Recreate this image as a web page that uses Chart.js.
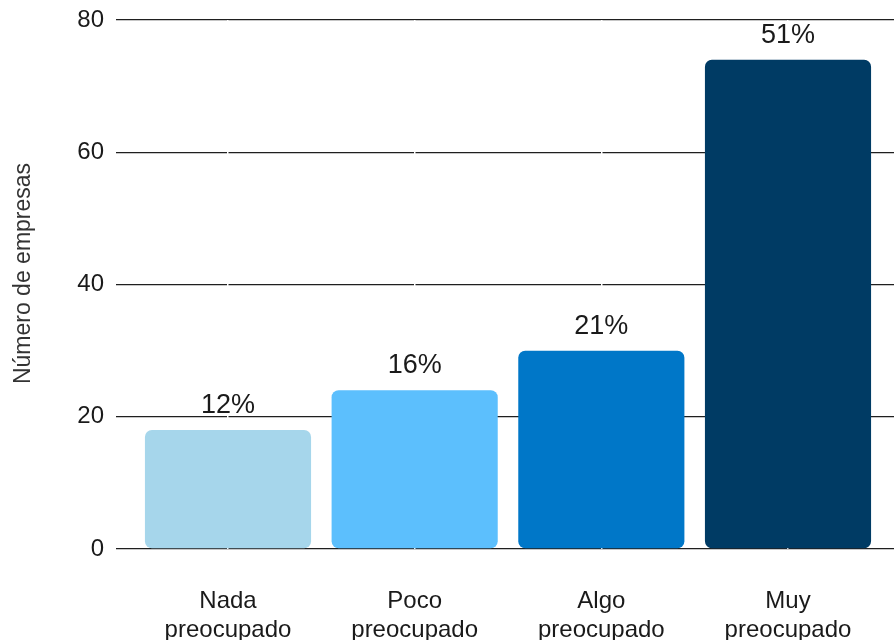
<!DOCTYPE html>
<html>
<head>
<meta charset="utf-8">
<script src="https://cdn.jsdelivr.net/npm/chart.js@4.4.1/dist/chart.umd.min.js"></script>
<style>
  html, body { margin: 0; padding: 0; background: #fff; overflow: hidden; }
  #wrap { width: 900px; height: 640px; }
</style>
</head>
<body>
<div id="wrap"><canvas id="preocupacionChart"></canvas></div>
<script>
const categories = ['Nada preocupado', 'Poco preocupado', 'Algo preocupado', 'Muy preocupado'];
const empresas = [18, 24, 30, 74];
const porcentajes = ['12%', '16%', '21%', '51%'];
const barColors = ['#a6d6eb', '#5cbffd', '#0077c8', '#003b64'];
const yTicks = [0, 20, 40, 60, 80];
const yTitle = 'Número de empresas';

Chart.defaults.font.family = "'Liberation Sans', Arial, sans-serif";
Chart.defaults.color = '#1a1a1a';

// draws the % label above every bar, and the y axis title
const pctLabels = {
    id: 'pctLabels',
    afterDatasetsDraw(chart) {
        const ctx = chart.ctx;
        const meta = chart.getDatasetMeta(0);
        ctx.save();
        ctx.font = "27px 'Liberation Sans', Arial, sans-serif";
        ctx.fillStyle = '#1a1a1a';
        ctx.textAlign = 'center';
        ctx.textBaseline = 'alphabetic';
        meta.data.forEach(function(bar, i) {
            ctx.fillText(porcentajes[i], bar.x, bar.y - 17);
        });
        ctx.restore();

        const area = chart.chartArea;
        ctx.save();
        ctx.translate(24, (area.top + area.bottom) / 2 - 11);
        ctx.rotate(-Math.PI / 2);
        ctx.font = "23px 'Liberation Sans', Arial, sans-serif";
        ctx.fillStyle = '#333333';
        ctx.textAlign = 'center';
        ctx.textBaseline = 'middle';
        ctx.fillText(yTitle, 0, 0);
        ctx.restore();
    }
};

const ctx = document.getElementById('preocupacionChart').getContext('2d');
new Chart(ctx, {
    type: 'bar',
    data: {
        datasets: [{
            data: empresas.map(function(v, i) { return { x: i + 1, y: v }; }),
            backgroundColor: barColors,
            borderRadius: 7,
            borderSkipped: false,
            barPercentage: 0.89,
            categoryPercentage: 1
        }]
    },
    options: {
        responsive: true,
        maintainAspectRatio: false,
        animation: false,
        layout: { padding: { top: 20, right: 0, left: 0, bottom: 0 } },
        plugins: {
            legend: { display: false },
            tooltip: { enabled: false }
        },
        scales: {
            x: {
                type: 'linear',
                offset: false,
                min: 0.4,
                max: 4.6,
                afterBuildTicks: function(scale) {
                    scale.ticks = categories.map(function(c, i) { return { value: i + 1 }; });
                },
                afterFit: function(scale) { scale.height = 91; },
                grid: { color: '#ffffff', lineWidth: 1.5, drawTicks: false, offset: false, z: 0 },
                border: { display: false },
                ticks: {
                    padding: 38,
                    autoSkip: false,
                    maxRotation: 0,
                    font: { size: 24, lineHeight: 1.2 },
                    color: '#1a1a1a',
                    callback: function(v) { return categories[v - 1].split(' '); }
                }
            },
            y: {
                min: 0,
                max: 80,
                afterBuildTicks: function(scale) {
                    scale.ticks = yTicks.map(function(v) { return { value: v }; });
                },
                afterFit: function(scale) {
                    scale.width = 116;
                    scale.paddingTop = 0;
                    scale.paddingBottom = 0;
                },
                grid: { color: '#1f1f1f', lineWidth: 1.3, drawTicks: false, z: -1 },
                border: { display: false },
                ticks: {
                    padding: 12,
                    font: { size: 24 },
                    color: '#1a1a1a'
                }
            }
        }
    },
    plugins: [pctLabels]
});
</script>
</body>
</html>
